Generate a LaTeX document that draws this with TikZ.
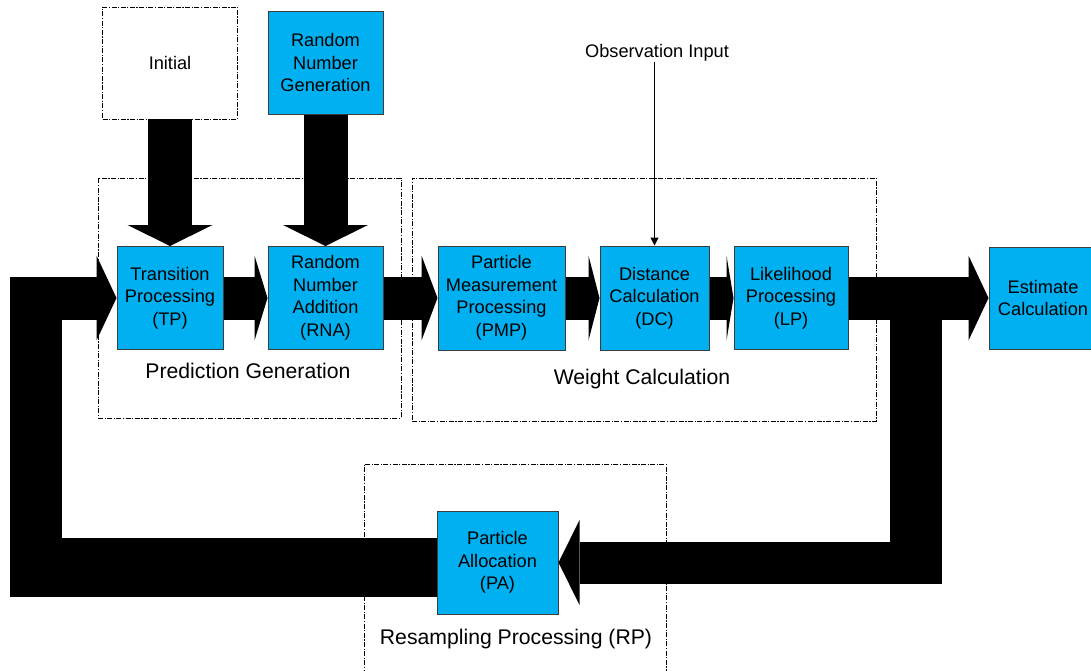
\documentclass[tikz,border=0pt]{standalone}
\usepackage{fontspec}
\setmainfont{Liberation Sans}
\usetikzlibrary{arrows.meta,calc}
\definecolor{procblue}{HTML}{00B0F0}
\definecolor{boxedge}{HTML}{3C3C3C}
\begin{document}
\begin{tikzpicture}[x=1pt,y=-1pt,
  proc/.style={draw=boxedge, line width=1pt, fill=procblue, align=center,
    inner sep=0pt, font=\fontsize{18.2}{22.5}\selectfont},
  group/.style={draw=black, line width=0.9pt,
    dash pattern=on 5pt off 1.5pt on 1.2pt off 1.5pt},
  grouplabel/.style={font=\fontsize{21.2}{25}\selectfont, anchor=base},
  fat/.style={line width=43pt, -{Triangle[length=#1, width=85pt, line width=0pt]}},
  fat/.default=20pt,
]
\useasboundingbox (0,0) rectangle (1091,670);

% stage frames
\node[group, minimum width=303pt, minimum height=240pt] (pg) at (249.5,298) {};
\node[group, minimum width=464pt, minimum height=243pt] (wc) at (644,299.5) {};
\node[group, minimum width=302pt, minimum height=230pt] (rp) at (515,579) {};
\node[grouplabel] at (248,378) {Prediction Generation};
\node[grouplabel] at (642,384) {Weight Calculation};
\node[grouplabel] at (516,644) {Resampling Processing (RP)};

% sources
\node[group, fill=white, align=center, minimum width=135pt, minimum height=112pt,
  font=\fontsize{18.2}{22.5}\selectfont] (init) at (170,63) {Initial};
\node[proc, minimum width=115pt, minimum height=103pt] (rng) at (325.5,62.5)
  {Random\\Number\\Generation};

% processing blocks
\node[proc, minimum width=106pt, minimum height=103pt] (tp) at (170,298)
  {Transition\\Processing\\(TP)};
\node[proc, minimum width=115pt, minimum height=103pt] (rna) at (325.5,298)
  {Random\\Number\\Addition\\(RNA)};
\node[proc, minimum width=127pt, minimum height=104pt] (pmp) at (501.5,298)
  {Particle\\Measurement\\Processing\\(PMP)};
\node[proc, minimum width=109pt, minimum height=104pt] (dc) at (654.5,298)
  {Distance\\Calculation\\(DC)};
\node[proc, minimum width=114pt, minimum height=103pt] (lp) at (791,298)
  {Likelihood\\Processing\\(LP)};
\node[proc, minimum width=108pt, minimum height=102pt] (est) at (1043,298)
  {Estimate\\Calculation};
\node[proc, minimum width=121pt, minimum height=103pt] (pa) at (497.5,562.5)
  {Particle\\Allocation\\(PA)};

% observation input
\node[font=\fontsize{18.2}{22.5}\selectfont, inner sep=1pt, anchor=base] (obs)
  at (657,57) {Observation Input};
\draw[line width=1pt, -{Triangle[length=8pt, width=8pt]}]
  (obs.south -| dc.north) -- (dc.north);

% block arrows into the prediction stage
\draw[fat=21pt, line width=44pt] (init.south) -- (tp.north);
\draw[fat=21pt, line width=44pt] (rng.south) -- (rna.north);

% main data path
\draw[fat=13pt] (tp.east) -- (rna.west);
\draw[fat=16pt] (rna.east) -- (pmp.west);
\draw[fat=11pt] (pmp.east) -- (dc.west);
\draw[fat=7pt] (dc.east) -- (lp.west);
\draw[fat=20pt] (lp.east) -- (est.west);

% resampling feedback loop
\coordinate (loopR) at (942,562.5);
\coordinate (loopL) at (10,298);
\fill (890,298) rectangle (942,583.5);
\draw[fat=21pt, line width=42pt] (loopR) -- (pa.east);
\fill ($(pa.west)+(0,-24.5)$) rectangle (10,597);
\fill (10,276.5) rectangle (62,597);
\draw[fat=20pt] (loopL) -- (tp.west);
\end{tikzpicture}
\end{document}
